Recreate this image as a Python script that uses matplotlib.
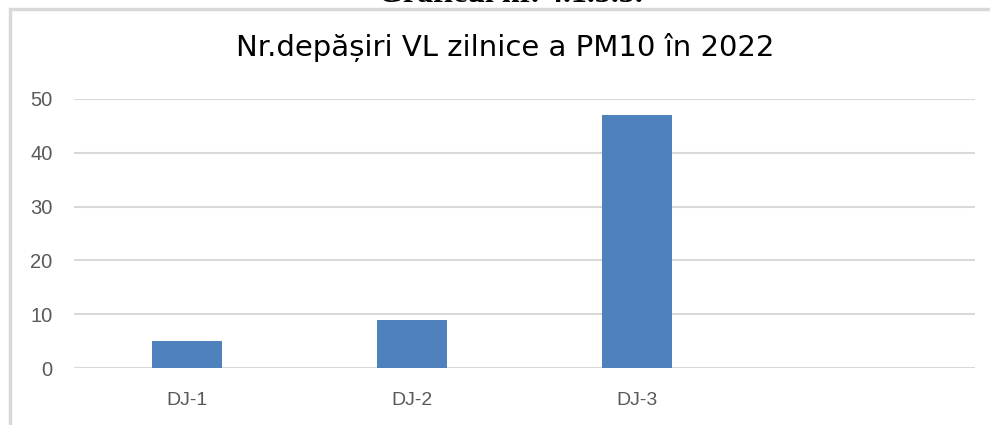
import matplotlib
matplotlib.use("Agg")
import matplotlib.pyplot as plt
from matplotlib.patches import Rectangle

categories = ["DJ-1", "DJ-2", "DJ-3"]
values = [5, 9, 47]
yticks = [0, 10, 20, 30, 40, 50]
title = "Nr.depășiri VL zilnice a PM10 în 2022"
caption = "Graficul nr. 4.1.3.3."

fig = plt.figure(figsize=(9.9, 4.25), dpi=100)
fig.patch.set_facecolor("white")

# chart border (extends beyond right/bottom edges)
fig.patches.append(Rectangle((10 / 990, -0.1), 1.2, (425 - 9) / 425 + 0.1,
                             transform=fig.transFigure, fill=False,
                             edgecolor="#D9D9D9", linewidth=2.5, zorder=0))
# cut-off caption above the chart (only its lower edge shows, as in the reference)
fig.text(510 / 990, 1 - 2 / 425, caption, ha="center", va="baseline", fontsize=23,
         family="Liberation Serif", fontweight="bold", color="black")

ax = fig.add_axes([74 / 990, 57 / 425, (975 - 74) / 990, (368 - 99) / 425])
x = list(range(len(categories)))
ax.bar(x, values, width=0.31, color="#4F81BD", zorder=3)
ax.set_xlim(-0.5, 3.5)
ax.set_ylim(0, 50)
ax.set_yticks(yticks)
ax.set_xticks(x)
ax.set_xticklabels(categories)
ax.yaxis.grid(True, color="#D9D9D9", linewidth=1.5, zorder=0)
ax.set_axisbelow(True)
for s in ax.spines.values():
    s.set_visible(False)
ax.tick_params(axis="y", length=0, labelsize=14.5, labelcolor="#595959", pad=15.5)
ax.tick_params(axis="x", length=0, labelsize=14, labelcolor="#595959", pad=17.5)
for lab in ax.get_xticklabels() + ax.get_yticklabels():
    lab.set_family("Liberation Sans")

fig.text(505 / 990, 1 - 48 / 425, title, ha="center", va="center",
         fontsize=21, family="DejaVu Sans", color="black")

fig.savefig("out.png", dpi=100)
